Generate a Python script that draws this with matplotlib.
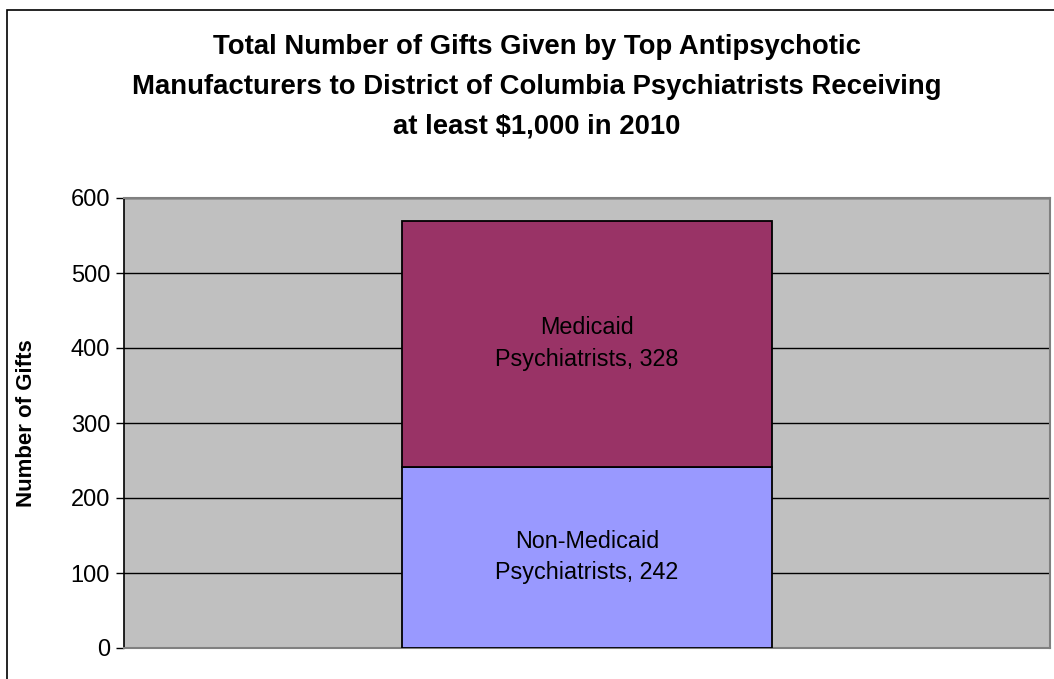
import matplotlib.pyplot as plt
from matplotlib.patches import Rectangle

plt.rcParams['font.family'] = ['Liberation Sans', 'DejaVu Sans']

# Data
categories = ['']
non_medicaid = [242]
medicaid = [328]
seg_names = ['Non-Medicaid\nPsychiatrists', 'Medicaid\nPsychiatrists']
yticks = [0, 100, 200, 300, 400, 500, 600]

fig = plt.figure(figsize=(10.54, 6.79), dpi=100)
fig.patch.set_facecolor('white')

# outer chart border (only top/left visible in the original crop)
fig.patches.append(Rectangle((7 / 1054, -0.05), 1.1, 1 - 10 / 679 + 0.05,
                             transform=fig.transFigure, fill=False,
                             edgecolor='black', linewidth=1.2))

ax = fig.add_axes([124 / 1054, 31 / 679, 926 / 1054, 450 / 679])
ax.set_facecolor('#C0C0C0')

x = range(len(categories))
ax.bar(x, non_medicaid, width=0.4, color='#9999FF', edgecolor='black',
       linewidth=1.3, zorder=3)
ax.bar(x, medicaid, width=0.4, bottom=non_medicaid, color='#993366',
       edgecolor='black', linewidth=1.3, zorder=3)

for i in x:
    ax.text(i, non_medicaid[i] / 2, f'{seg_names[0]}, {non_medicaid[i]}',
            ha='center', va='center', fontsize=16.8, linespacing=1.45, zorder=4)
    ax.text(i, non_medicaid[i] + medicaid[i] / 2, f'{seg_names[1]}, {medicaid[i]}',
            ha='center', va='center', fontsize=16.8, linespacing=1.45, zorder=4)

ax.set_xlim(-0.5, 0.5)
ax.set_ylim(0, 600)
ax.set_yticks(yticks)
ax.set_xticks([])
ax.tick_params(axis='y', labelsize=17, length=6, width=1, direction='out', pad=4)
ax.yaxis.grid(True, color='black', linewidth=1)
ax.set_axisbelow(True)

ax.spines['left'].set_color('black')
ax.spines['left'].set_linewidth(1.2)
for s in ['top', 'right', 'bottom']:
    ax.spines[s].set_color('#808080')
    ax.spines[s].set_linewidth(1.5)

ax.set_ylabel('Number of Gifts', fontsize=16, fontweight='bold', labelpad=24)

fig.text(537 / 1054, 1 - 87 / 679,
         'Total Number of Gifts Given by Top Antipsychotic\n'
         'Manufacturers to District of Columbia Psychiatrists Receiving\n'
         'at least $1,000 in 2010',
         ha='center', va='center', fontsize=19.8, fontweight='bold',
         linespacing=1.7)

plt.savefig('out.png', dpi=100)
